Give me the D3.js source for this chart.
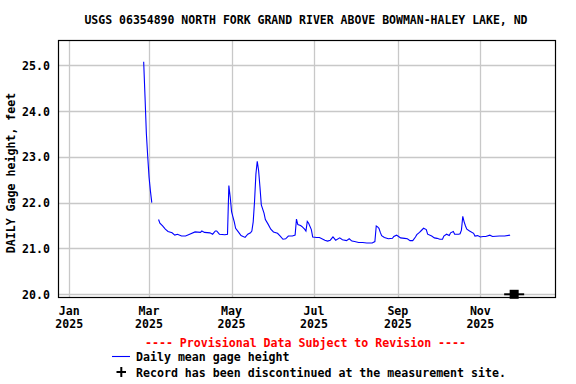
<!DOCTYPE html>
<html>
<head>
<meta charset="utf-8">
<script src="https://cdn.jsdelivr.net/npm/d3@7"></script>
<style>
  html, body { margin: 0; padding: 0; background: #fff; }
  svg { display: block; }
  text { font-family: "DejaVu Sans Mono", "Liberation Mono", monospace; font-weight: bold; font-size: 11.6px; }
</style>
</head>
<body>
<svg id="chart" width="576" height="384"></svg>
<script>
// ---- data ----
const title = "USGS 06354890 NORTH FORK GRAND RIVER ABOVE BOWMAN-HALEY LAKE, ND";
const yLabel = "DAILY Gage height, feet";
const yTicks = [20, 21, 22, 23, 24, 25];
const xTickDates = ["2025-01-01", "2025-03-01", "2025-05-01", "2025-07-01", "2025-09-01", "2025-11-01"];
const xTickMonths = ["Jan", "Mar", "May", "Jul", "Sep", "Nov"];
const xTickYears = ["2025", "2025", "2025", "2025", "2025", "2025"];

const dates = [
  "2025-02-25","2025-02-26","2025-02-27","2025-02-28","2025-03-01","2025-03-02","2025-03-03",
  "2025-03-05",
  "2025-03-08","2025-03-09","2025-03-11","2025-03-13","2025-03-15","2025-03-18","2025-03-20","2025-03-22",
  "2025-03-25","2025-03-28","2025-03-31","2025-04-04","2025-04-08","2025-04-09","2025-04-11","2025-04-15",
  "2025-04-17","2025-04-19","2025-04-20","2025-04-22","2025-04-26","2025-04-28","2025-04-29","2025-04-30",
  "2025-05-01","2025-05-02","2025-05-03","2025-05-04","2025-05-06","2025-05-08","2025-05-11","2025-05-13",
  "2025-05-15","2025-05-16","2025-05-17","2025-05-18","2025-05-19","2025-05-20","2025-05-21","2025-05-22",
  "2025-05-23","2025-05-25","2025-05-26","2025-05-28","2025-05-30","2025-06-01","2025-06-04","2025-06-06",
  "2025-06-08","2025-06-10","2025-06-12","2025-06-15","2025-06-17","2025-06-18","2025-06-19","2025-06-21",
  "2025-06-22","2025-06-24","2025-06-25","2025-06-26","2025-06-27","2025-06-29","2025-06-30","2025-07-03",
  "2025-07-05","2025-07-09","2025-07-11","2025-07-13","2025-07-15","2025-07-17","2025-07-20","2025-07-22",
  "2025-07-25","2025-07-27","2025-07-29","2025-07-31","2025-08-03","2025-08-06","2025-08-09","2025-08-13",
  "2025-08-15","2025-08-16","2025-08-17","2025-08-18","2025-08-19","2025-08-20","2025-08-22","2025-08-25",
  "2025-08-28","2025-08-29","2025-08-31","2025-09-01","2025-09-03","2025-09-06","2025-09-08","2025-09-10",
  "2025-09-12","2025-09-14","2025-09-15","2025-09-17","2025-09-18","2025-09-20","2025-09-22","2025-09-23",
  "2025-09-26","2025-09-28","2025-09-30","2025-10-02","2025-10-04","2025-10-05","2025-10-07","2025-10-09",
  "2025-10-10","2025-10-12","2025-10-13","2025-10-16","2025-10-17","2025-10-18","2025-10-19","2025-10-20",
  "2025-10-21","2025-10-22","2025-10-24","2025-10-27","2025-10-28","2025-10-30","2025-11-01","2025-11-03",
  "2025-11-05","2025-11-08","2025-11-10","2025-11-15","2025-11-19","2025-11-23"
];
const gageHeight = [
  25.07, 24.30, 23.50, 23.00, 22.55, 22.25, 22.00,
  null,
  21.63, 21.55, 21.49, 21.42, 21.37, 21.34, 21.29, 21.31,
  21.27, 21.27, 21.31, 21.36, 21.35, 21.38, 21.35, 21.34,
  21.31, 21.38, 21.38, 21.31, 21.30, 21.31, 22.37, 22.12,
  21.80, 21.69, 21.58, 21.44, 21.36, 21.28, 21.24, 21.31,
  21.34, 21.38, 21.58, 22.03, 22.62, 22.90, 22.70, 22.34,
  21.95, 21.77, 21.63, 21.53, 21.42, 21.36, 21.33, 21.27,
  21.20, 21.21, 21.27, 21.27, 21.29, 21.64, 21.52, 21.50,
  21.48, 21.42, 21.38, 21.59, 21.55, 21.41, 21.25, 21.24,
  21.24, 21.18, 21.16, 21.18, 21.25, 21.18, 21.23, 21.19,
  21.17, 21.21, 21.16, 21.15, 21.13, 21.13, 21.12, 21.12,
  21.15, 21.49, 21.47, 21.44, 21.35, 21.28, 21.24, 21.21,
  21.22, 21.26, 21.29, 21.27, 21.23, 21.22, 21.21, 21.17,
  21.17, 21.25, 21.30, 21.35, 21.38, 21.44, 21.41, 21.31,
  21.27, 21.23, 21.22, 21.20, 21.20, 21.27, 21.31, 21.28,
  21.34, 21.37, 21.31, 21.31, 21.32, 21.40, 21.70, 21.58,
  21.49, 21.42, 21.38, 21.33, 21.27, 21.28, 21.25, 21.26,
  21.26, 21.29, 21.26, 21.27, 21.27, 21.29
];
const discontinuedDate = "2025-11-26";
const discontinuedValue = 20.0;
const provisionalText = "---- Provisional Data Subject to Revision ----";
const legendLabels = ["Daily mean gage height", "Record has been discontinued at the measurement site."];

// ---- layout ----
const svg = d3.select("#chart");
const L = 58, R = 555, T = 40, B = 297;
const parse = d3.utcParse("%Y-%m-%d");

const x = d3.scaleUtc()
  .domain([new Date(Date.UTC(2024, 11, 23, 15, 20)), new Date(Date.UTC(2025, 11, 26, 4, 50))])
  .range([L, R]);
const y = d3.scaleLinear().domain([19.941, 25.545]).range([B, T]);

const data = dates.map((d, i) => ({ date: parse(d), value: gageHeight[i] }));

// gridlines
const grid = svg.append("g");
grid.selectAll("line.v").data(xTickDates).join("line")
  .attr("x1", d => Math.round(x(parse(d))) + 0.5).attr("x2", d => Math.round(x(parse(d))) + 0.5)
  .attr("y1", T).attr("y2", B)
  .attr("stroke", "#c8c8c8").attr("stroke-width", 1.3);
grid.selectAll("line.h").data(yTicks).join("line")
  .attr("x1", L).attr("x2", R)
  .attr("y1", d => Math.round(y(d)) + 0.5).attr("y2", d => Math.round(y(d)) + 0.5)
  .attr("stroke", "#c8c8c8").attr("stroke-width", 1.3);

// data line
const line = d3.line()
  .defined(d => d.value !== null)
  .x(d => x(d.date)).y(d => y(d.value));
svg.append("path").datum(data)
  .attr("d", line)
  .attr("fill", "none").attr("stroke", "#0000ff").attr("stroke-width", 1.1);

// frame
svg.append("rect").attr("x", L + 0.5).attr("y", T + 0.5)
  .attr("width", R - L).attr("height", B - T)
  .attr("fill", "none").attr("stroke", "#000").attr("stroke-width", 1.2);

// discontinued marker
const mx = x(parse(discontinuedDate)), my = y(discontinuedValue);
svg.append("line").attr("x1", mx - 10).attr("x2", mx + 10).attr("y1", my).attr("y2", my)
  .attr("stroke", "#000").attr("stroke-width", 2);
svg.append("rect").attr("x", mx - 4.5).attr("y", my - 4.5).attr("width", 9).attr("height", 9).attr("fill", "#000");

// y axis labels
const yAxis = d3.axisLeft(y).tickValues(yTicks).tickFormat(d3.format(".1f")).tickSize(0).tickPadding(0);
const ya = svg.append("g").attr("transform", `translate(${L - 8},0)`).call(yAxis);
ya.select(".domain").remove();
ya.selectAll("text").attr("fill", "#000").attr("dy", "0.36em")
  .style("font-family", "DejaVu Sans Mono").style("font-weight", "bold").style("font-size", "11.6px");

// x axis labels (two lines)
const xl = svg.append("g");
xl.selectAll("text.m").data(xTickDates).join("text")
  .attr("x", d => x(parse(d))).attr("y", 315).attr("text-anchor", "middle")
  .text((d, i) => xTickMonths[i]);
xl.selectAll("text.yr").data(xTickDates).join("text")
  .attr("x", d => x(parse(d))).attr("y", 328).attr("text-anchor", "middle")
  .text((d, i) => xTickYears[i]);

// title
svg.append("text").attr("x", 306).attr("y", 24).attr("text-anchor", "middle")
  .style("font-size", "11.5px").text(title);

// y label
svg.append("text").attr("transform", "translate(15,173) rotate(-90)")
  .attr("text-anchor", "middle").text(yLabel);

// provisional
svg.append("text").attr("x", 305.5).attr("y", 346.5).attr("text-anchor", "middle")
  .attr("fill", "#ff0000").text(provisionalText);

// legend
svg.append("line").attr("x1", 112).attr("x2", 130).attr("y1", 356.5).attr("y2", 356.5)
  .attr("stroke", "#0000ff").attr("stroke-width", 1.1);
svg.append("text").attr("x", 136).attr("y", 361).text(legendLabels[0]);
svg.append("line").attr("x1", 116.5).attr("x2", 126).attr("y1", 372).attr("y2", 372)
  .attr("stroke", "#000").attr("stroke-width", 2);
svg.append("line").attr("x1", 121.3).attr("x2", 121.3).attr("y1", 367).attr("y2", 377)
  .attr("stroke", "#000").attr("stroke-width", 2);
svg.append("text").attr("x", 136).attr("y", 377).text(legendLabels[1]);
</script>
</body>
</html>
